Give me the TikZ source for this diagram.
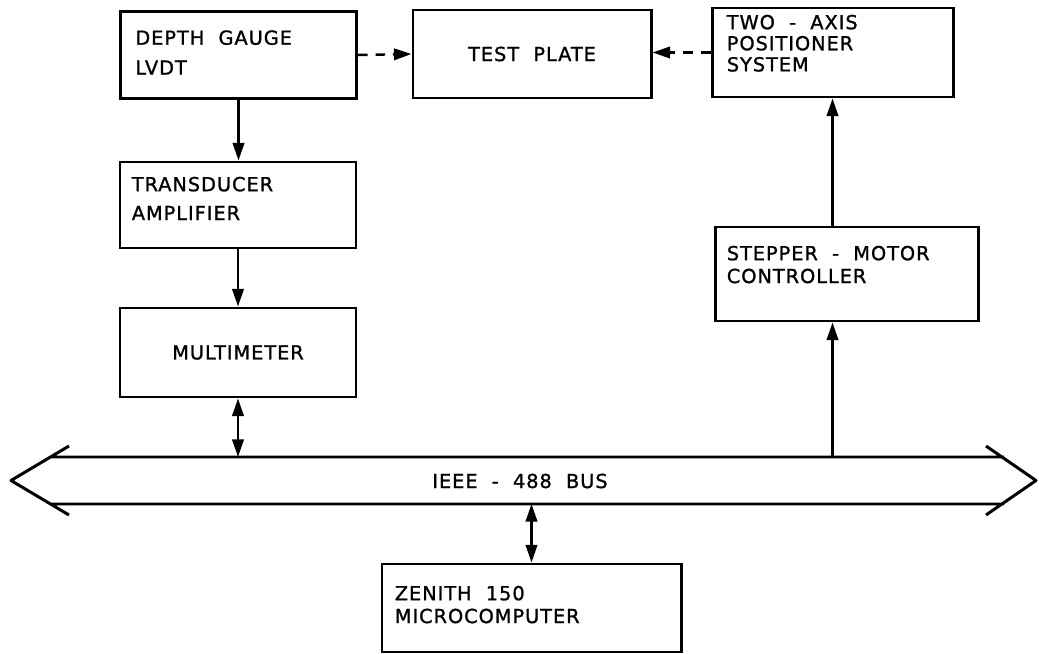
\documentclass[tikz,border=0pt]{standalone}
\usepackage{fontspec}
\newfontfamily\lettering[LetterSpace=5,WordSpace=2,FakeBold=1.2]{DejaVu Sans}
\usetikzlibrary{arrows.meta,calc}

\begin{document}
\begin{tikzpicture}[>={Triangle[length=10pt,width=6.5pt]},
    blk/.style={draw, line width=1.7pt, inner sep=0pt, font=\lettering\fontsize{11}{13}\selectfont},
    txt/.style={font=\lettering\fontsize{11}{#1}\selectfont, align=left, inner sep=0pt, anchor=north west},
    conn/.style={->, line width=1.4pt},
    dconn/.style={<->, line width=1.4pt},
    dsh/.style={->, line width=1.4pt, dash pattern=on 5.5pt off 4.5pt}]
    \useasboundingbox (0,0) rectangle (20.78,-13.08);

    \node[blk, minimum width=4.72cm, minimum height=1.74cm] (dg) at (4.77,-1.1) {};
    \node[blk, minimum width=4.76cm, minimum height=1.76cm] (tp) at (10.64,-1.08) {TEST PLATE};
    \node[blk, minimum width=4.82cm, minimum height=1.78cm] (ta) at (16.65,-1.05) {};
    \node[blk, minimum width=4.72cm, minimum height=1.72cm] (tr) at (4.76,-4.10) {};
    \node[blk, minimum width=4.72cm, minimum height=1.78cm] (mm) at (4.76,-7.05) {MULTIMETER};
    \node[blk, minimum width=5.26cm, minimum height=1.88cm] (sm) at (16.93,-5.48) {};
    \node[blk, minimum width=5.98cm, minimum height=1.76cm] (zc) at (10.63,-12.16) {};

    \node[txt=17pt] (dgt) at ([shift={(0.32,-0.40)}]dg.north west) {DEPTH GAUGE\\LVDT};
    \node[txt=12pt] (tat) at ([shift={(0.32,-0.16)}]ta.north west) {TWO - AXIS\\POSITIONER\\SYSTEM};
    \node[txt=16.4pt] (trt) at ([shift={(0.26,-0.32)}]tr.north west) {TRANSDUCER\\AMPLIFIER};
    \node[txt=13pt] (smt) at ([shift={(0.26,-0.40)}]sm.north west) {STEPPER - MOTOR\\CONTROLLER};
    \node[txt=13pt] (zct) at ([shift={(0.28,-0.46)}]zc.north west) {ZENITH 150\\MICROCOMPUTER};

    % bus
    \coordinate (bustop) at (0,-9.14);
    \coordinate (busbot) at (0,-10.08);
    \draw[line width=1.7pt, line join=round]
        (1.38,-8.92) -- (0.22,-9.61) -- (1.38,-10.30)
        (1.01,-9.14) -- (20.08,-9.14)
        (1.01,-10.08) -- (20.08,-10.08)
        (19.72,-8.92) -- (20.72,-9.61) -- (19.72,-10.30);
    \node[font=\lettering\fontsize{11}{13}\selectfont] (bus) at (10.40,-9.62) {IEEE - 488 BUS};

    \draw[dsh] (dg.east) -- (tp.west);
    \draw[dsh] (ta.west) -- (ta.west -| tp.east);
    \draw[conn] (dg.south) -- (dg.south |- tr.north);
    \draw[conn] (tr.south) -- (mm.north);
    \draw[dconn] (mm.south) -- (mm.south |- bustop);
    \draw[conn] (ta.south |- bustop) -- (ta.south |- sm.south);
    \draw[conn] (ta.south |- sm.north) -- (ta.south);
    \draw[dconn] (zc.north |- busbot) -- (zc.north);
\end{tikzpicture}
\end{document}
